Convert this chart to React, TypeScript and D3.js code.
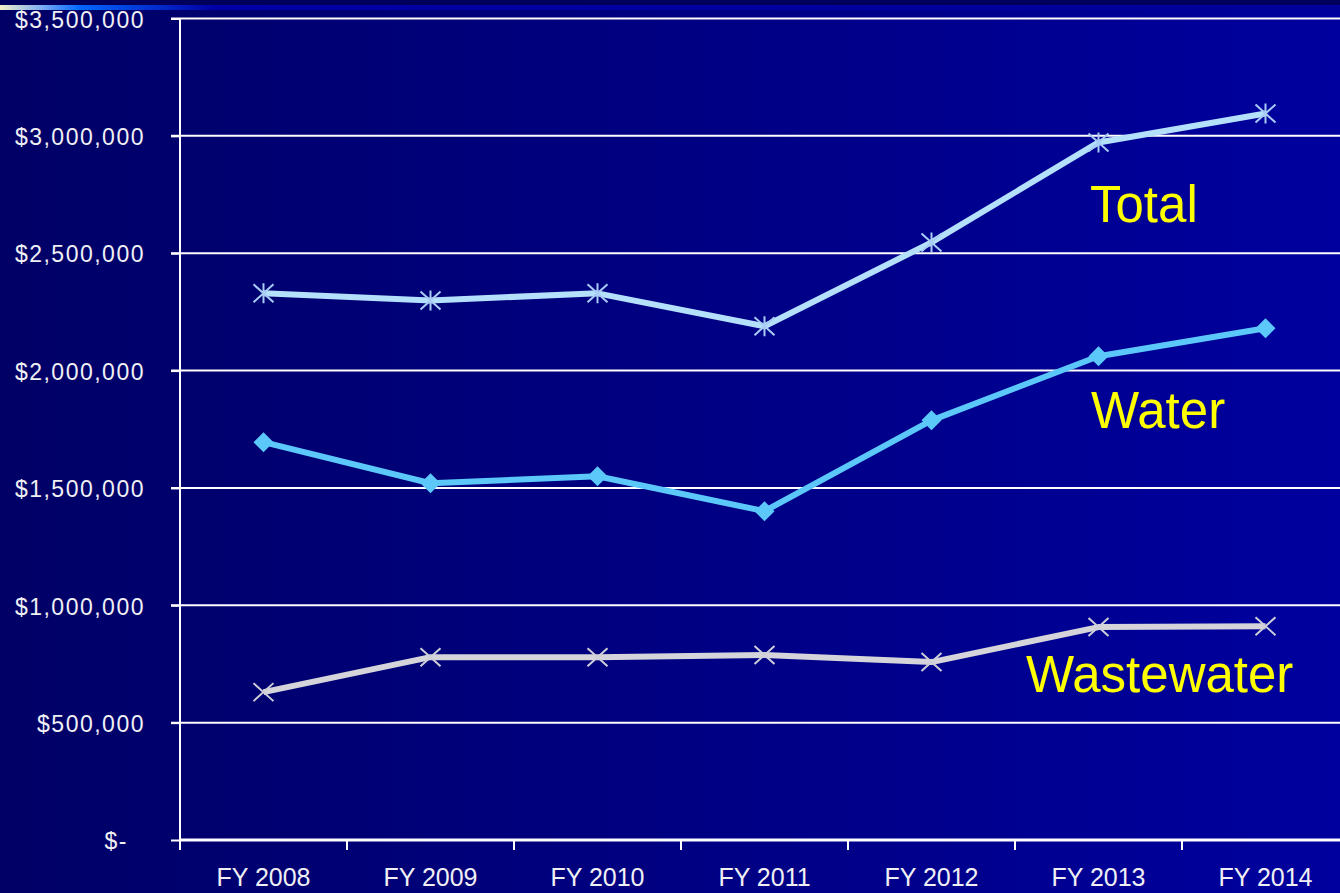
import React, { useEffect, useRef } from "react";
import * as d3 from "d3";

const years = ["FY 2008", "FY 2009", "FY 2010", "FY 2011", "FY 2012", "FY 2013", "FY 2014"];
const totalValues = [2329000, 2299000, 2329000, 2189000, 2546000, 2972000, 3095000];
const waterValues = [1695000, 1520000, 1550000, 1401000, 1788000, 2061000, 2180000];
const wastewaterValues = [630000, 779000, 779000, 788000, 758000, 907000, 911000];
const yTicks = [0, 500000, 1000000, 1500000, 2000000, 2500000, 3000000, 3500000];

const container = { width: 1340, height: 893 };
const plot = { left: 180, top: 18.5, bottom: 840, bandWidth: 167 };

const draw = (node: SVGSVGElement) => {
  const svg = d3.select(node);
  svg.selectAll("*").remove();

  const defs = svg.append("defs");
  const bg = defs.append("linearGradient").attr("id", "bg").attr("x1", "0").attr("x2", "1").attr("y1", "0").attr("y2", "0");
  bg.append("stop").attr("offset", "0%").attr("stop-color", "#000066");
  bg.append("stop").attr("offset", "100%").attr("stop-color", "#00009e");
  const strip = defs.append("linearGradient").attr("id", "strip").attr("x1", "0").attr("x2", "1").attr("y1", "0").attr("y2", "0");
  strip.append("stop").attr("offset", "0%").attr("stop-color", "#f4f0c8");
  strip.append("stop").attr("offset", "3%").attr("stop-color", "#80b0f0");
  strip.append("stop").attr("offset", "6%").attr("stop-color", "#0066ff");
  strip.append("stop").attr("offset", "16%").attr("stop-color", "#0000a6");
  strip.append("stop").attr("offset", "100%").attr("stop-color", "#00009a");

  svg.append("rect").attr("width", container.width).attr("height", container.height).attr("fill", "url(#bg)");
  svg.append("rect").attr("width", container.width).attr("height", 5).attr("fill", "#00005c");
  svg.append("rect").attr("y", 5).attr("width", container.width).attr("height", 5).attr("fill", "url(#strip)");

  const xScale = d3
    .scaleBand()
    .domain(years)
    .range([plot.left, plot.left + plot.bandWidth * years.length]);
  const yScale = d3.scaleLinear().domain([0, 3500000]).range([plot.bottom, plot.top]);
  const cx = (i: number) => (xScale(years[i]) as number) + xScale.bandwidth() / 2;

  // gridlines
  svg
    .append("g")
    .selectAll("line")
    .data(yTicks.filter(d => d > 0))
    .enter()
    .append("line")
    .attr("x1", plot.left - 9)
    .attr("x2", container.width)
    .attr("y1", d => yScale(d))
    .attr("y2", d => yScale(d))
    .attr("stroke", "#ffffff")
    .attr("stroke-width", 2);

  // y axis
  const yAxis = svg
    .append("g")
    .attr("transform", "translate(" + plot.left + ",0)")
    .call(d3.axisLeft(yScale).tickValues(yTicks).tickSize(9).tickFormat(d => (+d === 0 ? "$-" : d3.format("$,")(+d))));
  yAxis.select(".domain").remove();
  yAxis.selectAll("line").attr("stroke", "#ffffff").attr("stroke-width", 2);
  yAxis
    .selectAll("text")
    .attr("fill", "#f0f0f4")
    .attr("font-family", "'Liberation Sans', Arial, sans-serif")
    .attr("font-size", 23)
    .attr("letter-spacing", 1.5)
    .attr("x", (d: any) => (+d === 0 ? -52 : -35))
    .attr("dy", "0.38em");

  // x axis
  const xAxis = svg
    .append("g")
    .attr("transform", "translate(0," + plot.bottom + ")")
    .call(d3.axisBottom(xScale).tickSize(0).tickPadding(0));
  xAxis.select(".domain").remove();
  xAxis
    .selectAll("text")
    .attr("fill", "#f0f0f4")
    .attr("font-family", "'Liberation Sans', Arial, sans-serif")
    .attr("font-size", 25)
    .attr("y", 46)
    .attr("dy", 0);
  svg
    .append("g")
    .selectAll("line")
    .data(d3.range(years.length + 1))
    .enter()
    .append("line")
    .attr("x1", i => plot.left + i * xScale.bandwidth())
    .attr("x2", i => plot.left + i * xScale.bandwidth())
    .attr("y1", plot.bottom)
    .attr("y2", plot.bottom + 10)
    .attr("stroke", "#ffffff")
    .attr("stroke-width", 2);
  svg
    .append("line")
    .attr("x1", plot.left)
    .attr("x2", container.width)
    .attr("y1", plot.bottom)
    .attr("y2", plot.bottom)
    .attr("stroke", "#ffffff")
    .attr("stroke-width", 3);
  svg
    .append("line")
    .attr("x1", plot.left)
    .attr("x2", plot.left)
    .attr("y1", plot.top)
    .attr("y2", plot.bottom)
    .attr("stroke", "#ffffff")
    .attr("stroke-width", 2);

  const line = d3
    .line<number>()
    .x((_, i) => cx(i))
    .y(d => yScale(d));

  const series = [
    { values: wastewaterValues, color: "#d4d4da", marker: "x", markerColor: "#cfcfd8" },
    { values: waterValues, color: "#5cc8fa", marker: "diamond", markerColor: "#5cc8fa" },
    { values: totalValues, color: "#b4e0fc", marker: "star", markerColor: "#a8ccf4" }
  ];

  series.forEach(s => {
    svg
      .append("path")
      .datum(s.values)
      .attr("d", line)
      .attr("fill", "none")
      .attr("stroke", s.color)
      .attr("stroke-width", 6)
      .attr("stroke-linejoin", "round");
    const g = svg.append("g");
    s.values.forEach((v, i) => {
      const x = cx(i);
      const y = yScale(v);
      if (s.marker === "diamond") {
        g.append("path")
          .attr("d", `M${x},${y - 10}L${x + 10},${y}L${x},${y + 10}L${x - 10},${y}Z`)
          .attr("fill", s.markerColor);
      } else if (s.marker === "x") {
        g.append("path")
          .attr("d", `M${x - 10},${y - 9}L${x + 10},${y + 9}M${x - 10},${y + 9}L${x + 10},${y - 9}`)
          .attr("stroke", s.markerColor)
          .attr("stroke-width", 2);
      } else {
        g.append("path")
          .attr("d", `M${x - 10},${y - 9}L${x + 10},${y + 9}M${x - 10},${y + 9}L${x + 10},${y - 9}M${x},${y - 10}L${x},${y + 10}`)
          .attr("stroke", s.markerColor)
          .attr("stroke-width", 2);
      }
    });
  });

  const labels = [
    { text: "Total", x: 1090, y: 222 },
    { text: "Water", x: 1091, y: 428 },
    { text: "Wastewater", x: 1026, y: 692 }
  ];
  svg
    .append("g")
    .selectAll("text")
    .data(labels)
    .enter()
    .append("text")
    .attr("x", d => d.x)
    .attr("y", d => d.y)
    .attr("fill", "#ffff00")
    .attr("font-family", "'Liberation Sans', Arial, sans-serif")
    .attr("font-size", 51)
    .text(d => d.text);
};

const App = () => {
  const ref = useRef<SVGSVGElement>(null);
  useEffect(() => {
    document.body.style.margin = "0";
    if (ref.current) draw(ref.current);
  }, []);
  return <svg ref={ref} width={container.width} height={container.height} style={{ display: "block" }} />;
};

export default App;
